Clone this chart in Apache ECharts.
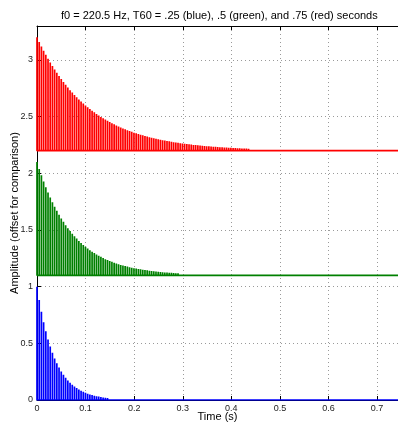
<!DOCTYPE html>
<html lang="en" style="height: 100%">

<head>
    <meta charset="utf-8">
    <script type="text/javascript" src="https://cdn.jsdelivr.net/npm/echarts@6/dist/echarts.min.js"></script>
</head>

<body style="height: 100%; margin: 0; background: #fff">
    <div id="chart" style="height: 423px; width: 398px"></div>

    <script type="text/javascript">
        // pitch and plotting range
        var f0 = 220.5;
        var xMax = 0.743;
        var yTicks = [0, 0.5, 1, 1.5, 2, 2.5, 3];
        var xTicks = [0, 0.1, 0.2, 0.3, 0.4, 0.5, 0.6, 0.7];

        // vertical offsets used for comparison
        var offsets = { blue: 0, green: 1.1, red: 2.2 };

        // pulse amplitudes, one per period (T60 = .25 s)
        var blueAmp = [1, 0.882, 0.778, 0.687, 0.606, 0.534, 0.472, 0.416, 0.367, 0.324,
            0.286, 0.252, 0.222, 0.196, 0.173, 0.153, 0.135, 0.119, 0.105, 0.092,
            0.082, 0.072, 0.063, 0.056, 0.049, 0.044, 0.038, 0.034, 0.030, 0.026,
            0.023, 0.020, 0.018, 0.016, 0.014, 0.012, 0.011, 0.010, 0.009, 0.008,
            0.007, 0.006, 0.005, 0.005, 0.004, 0.004, 0.003, 0.003, 0.002, 0.002];

        // T60 = .5 s
        var greenAmp = [1, 0.939, 0.882, 0.829, 0.778, 0.731, 0.687, 0.645, 0.606, 0.569,
            0.534, 0.502, 0.472, 0.443, 0.416, 0.391, 0.367, 0.345, 0.324, 0.304,
            0.286, 0.268, 0.252, 0.237, 0.222, 0.209, 0.196, 0.184, 0.173, 0.163,
            0.153, 0.143, 0.135, 0.126, 0.119, 0.112, 0.105, 0.098, 0.092, 0.087,
            0.082, 0.077, 0.072, 0.068, 0.063, 0.060, 0.056, 0.053, 0.049, 0.046,
            0.044, 0.041, 0.038, 0.036, 0.034, 0.032, 0.030, 0.028, 0.026, 0.025,
            0.023, 0.022, 0.020, 0.019, 0.018, 0.017, 0.016, 0.015, 0.014, 0.013,
            0.012, 0.012, 0.011, 0.010, 0.010, 0.009, 0.008, 0.008, 0.007, 0.007,
            0.007, 0.006, 0.006, 0.005, 0.005, 0.005, 0.004, 0.004, 0.004, 0.004, 0.003];

        // T60 = .75 s
        var redAmp = [1, 0.959, 0.920, 0.882, 0.846, 0.811, 0.778, 0.746, 0.716, 0.687,
            0.658, 0.632, 0.606, 0.581, 0.557, 0.534, 0.513, 0.492, 0.472, 0.452,
            0.434, 0.416, 0.399, 0.383, 0.367, 0.352, 0.338, 0.324, 0.310, 0.298,
            0.286, 0.274, 0.263, 0.252, 0.242, 0.232, 0.222, 0.213, 0.205, 0.196,
            0.188, 0.180, 0.173, 0.166, 0.159, 0.153, 0.146, 0.140, 0.135, 0.129,
            0.124, 0.119, 0.114, 0.109, 0.105, 0.101, 0.096, 0.092, 0.089, 0.085,
            0.082, 0.078, 0.075, 0.072, 0.069, 0.066, 0.063, 0.061, 0.058, 0.056,
            0.054, 0.051, 0.049, 0.047, 0.045, 0.044, 0.042, 0.040, 0.038, 0.037,
            0.035, 0.034, 0.032, 0.031, 0.030, 0.029, 0.027, 0.026, 0.025, 0.024,
            0.023, 0.022, 0.021, 0.020, 0.020, 0.019, 0.018, 0.017, 0.016, 0.016,
            0.015, 0.015, 0.014, 0.013, 0.013, 0.012, 0.012, 0.011, 0.011, 0.010,
            0.010, 0.010, 0.009, 0.009, 0.008, 0.008, 0.008, 0.007, 0.007, 0.007, 0.007];

        // each pulse is a spike up from the baseline, like plot() of the signal
        function spikes(amps, base) {
            var pts = [];
            amps.forEach(function (a, n) {
                var t = n / f0;
                pts.push([t, base], [t, base + a], [t, base]);
            });
            pts.push([xMax, base]);
            return pts;
        }

        function lineSeries(name, amps, base, color) {
            return {
                name: name,
                type: 'line',
                data: spikes(amps, base),
                symbol: 'none',
                clip: true,
                lineStyle: { color: color, width: 1.7 },
                z: 3
            };
        }

        var font = 'Liberation Sans, Arial, sans-serif';
        var gridLine = { show: true, lineStyle: { color: '#9a9a9a', type: [1, 3], width: 1 } };

        var chart = echarts.init(document.getElementById('chart'));
        chart.setOption({
            animation: false,
            backgroundColor: '#fff',
            title: {
                text: 'f0 = 220.5 Hz, T60 = .25 (blue), .5 (green), and .75 (red) seconds',
                left: 56,
                top: 5,
                textStyle: { fontFamily: font, fontSize: 11, fontWeight: 'normal', color: '#000' }
            },
            grid: { left: 37, right: 0, top: 26, bottom: 23, containLabel: false, outerBoundsMode: 'none' },
            xAxis: [{
                type: 'value',
                min: 0,
                max: xMax,
                interval: 0.1,
                name: 'Time (s)',
                nameLocation: 'middle',
                nameGap: 11,
                nameMoveOverlap: false,
                nameTextStyle: { fontFamily: font, fontSize: 11, color: '#000' },
                axisLine: { show: true, onZero: false, lineStyle: { color: '#000', width: 1 } },
                axisTick: { show: true, inside: true, length: 4, lineStyle: { color: '#000' } },
                axisLabel: {
                    fontFamily: font, fontSize: 9, color: '#222', margin: 4, showMaxLabel: false,
                    formatter: function (v) { return xTicks.indexOf(Math.round(v * 10) / 10) >= 0 ? String(Math.round(v * 10) / 10) : ''; }
                },
                splitLine: gridLine
            }, {
                type: 'value',
                position: 'top',
                min: 0,
                max: xMax,
                interval: 0.1,
                axisLine: { show: true, onZero: false, lineStyle: { color: '#000', width: 1 } },
                axisTick: { show: true, inside: true, length: 4, lineStyle: { color: '#000' } },
                axisLabel: { show: false },
                splitLine: { show: false }
            }],
            yAxis: {
                type: 'value',
                min: 0,
                max: 3.3,
                interval: 0.5,
                name: 'Amplitude (offset for comparison)',
                nameLocation: 'middle',
                nameGap: 17,
                nameMoveOverlap: false,
                nameTextStyle: { fontFamily: font, fontSize: 11, color: '#000' },
                axisLine: { show: true, onZero: false, lineStyle: { color: '#000', width: 1 } },
                axisTick: { show: true, inside: true, length: 4, lineStyle: { color: '#000' } },
                axisLabel: {
                    fontFamily: font, fontSize: 9, color: '#222', margin: 4, showMaxLabel: false,
                    formatter: function (v) { return yTicks.indexOf(v) >= 0 ? String(v) : ''; }
                },
                splitLine: gridLine
            },
            series: [
                lineSeries('red', redAmp, offsets.red, '#ff0000'),
                lineSeries('green', greenAmp, offsets.green, '#008000'),
                lineSeries('blue', blueAmp, offsets.blue, '#0000ff')
            ]
        });
    </script>
</body>

</html>
